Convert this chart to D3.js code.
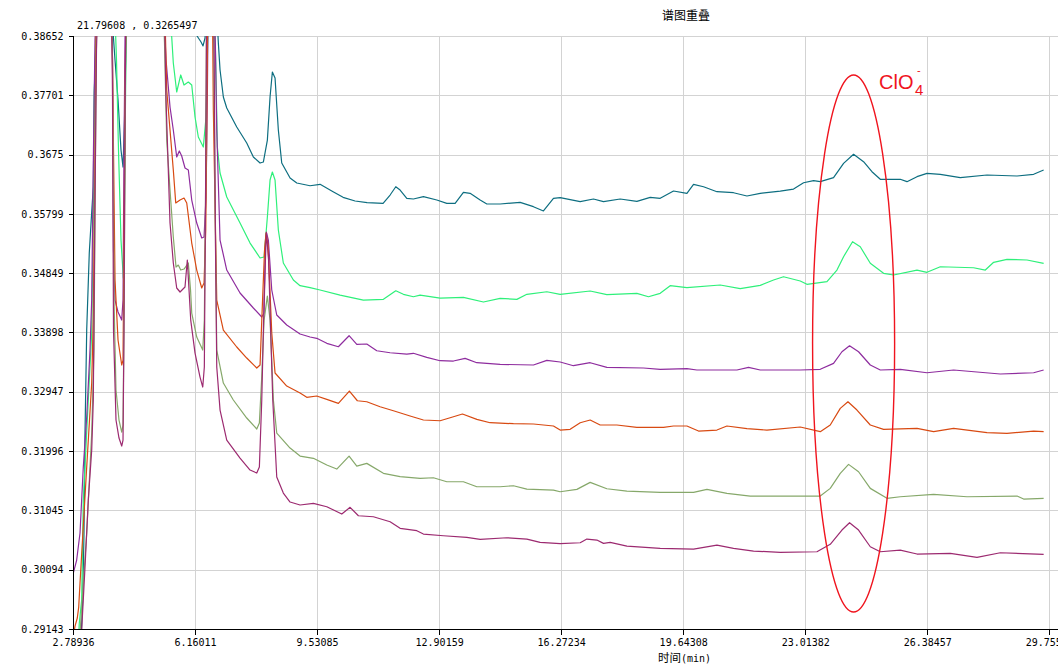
<!DOCTYPE html>
<html><head><meta charset="utf-8">
<script src="https://cdn.jsdelivr.net/npm/d3@7/dist/d3.min.js"></script>
<style>
html,body{margin:0;padding:0;background:#fff;overflow:hidden;}
svg{display:block;}
</style></head>
<body>
<svg id="chart" width="1058" height="665"></svg>
<script>
// ---------- DATA ----------
const chartTitle = "谱图重叠";
const xAxisTitleCJK = "时间";
const xAxisTitleUnit = "(min)";
const cursorReadout = "21.79608 , 0.3265497";
const annotationLabel = "ClO";
const annotationSub = "4";
const annotationSup = "-";

const xTickValues = [2.78936, 6.16011, 9.53085, 12.90159, 16.27234, 19.64308, 23.01382, 26.38457, 29.75531];
const xTickLabels = ["2.78936", "6.16011", "9.53085", "12.90159", "16.27234", "19.64308", "23.01382", "26.38457", "29.75531"];
const yTickValues = [0.29143, 0.30094, 0.31045, 0.31996, 0.32947, 0.33898, 0.34849, 0.35799, 0.3675, 0.37701, 0.38652];
const yTickLabels = ["0.29143", "0.30094", "0.31045", "0.31996", "0.32947", "0.33898", "0.34849", "0.35799", "0.3675", "0.37701", "0.38652"];

// ClO4- peak region (time, signal) marked by the ellipse
const markCenter = [24.35, 0.33721];
const markHalfSpan = [1.133, 0.04306];

// each series: [time (min), signal]
const seriesTeal = [[2.789,0.2885],[3.010,0.28966],[3.057,0.29607],[3.093,0.30682],[3.121,0.32285],[3.168,0.33937],[3.239,0.35172],[3.306,0.35829],[3.350,0.36230],[3.378,0.37754],[3.416,0.38428],[3.452,0.3895],[3.867,0.3895],[3.950,0.38267],[4.033,0.37626],[4.115,0.36824],[4.171,0.36551],[4.212,0.37305],[4.253,0.38588],[4.281,0.3895],[6.160,0.3895],[6.215,0.38652],[6.326,0.38556],[6.381,0.38492],[6.436,0.38620],[6.464,0.3895],[6.768,0.3895],[6.804,0.38540],[6.851,0.38107],[6.942,0.37674],[7.036,0.37497],[7.312,0.37193],[7.588,0.36936],[7.771,0.36712],[7.956,0.36615],[8.047,0.36631],[8.158,0.36984],[8.232,0.37674],[8.296,0.38075],[8.370,0.37979],[8.461,0.37145],[8.555,0.36615],[8.785,0.36375],[8.970,0.36295],[9.337,0.36251],[9.614,0.36274],[9.973,0.36155],[10.249,0.36065],[10.581,0.36006],[10.912,0.35979],[11.354,0.35969],[11.548,0.36102],[11.705,0.36235],[11.824,0.36182],[12.009,0.36049],[12.191,0.36038],[12.468,0.36075],[12.838,0.36022],[13.114,0.35969],[13.344,0.35969],[13.573,0.36145],[13.758,0.36129],[14.035,0.36022],[14.220,0.35958],[14.587,0.35958],[15.140,0.35985],[15.507,0.35915],[15.783,0.35846],[16.060,0.36049],[16.245,0.36059],[16.798,0.35995],[17.165,0.36038],[17.442,0.35995],[17.903,0.36038],[18.364,0.36001],[18.732,0.36065],[19.008,0.36049],[19.376,0.36166],[19.746,0.36129],[19.929,0.36274],[20.205,0.36235],[20.575,0.36155],[21.034,0.36139],[21.404,0.36086],[21.771,0.36129],[22.324,0.36166],[22.691,0.36198],[22.968,0.36299],[23.244,0.36332],[23.429,0.36316],[23.796,0.36380],[24.073,0.36610],[24.349,0.36755],[24.625,0.36636],[24.857,0.36476],[25.087,0.36354],[25.639,0.36354],[25.824,0.36316],[26.101,0.36396],[26.377,0.36450],[26.745,0.36434],[27.297,0.36380],[28.035,0.36423],[28.864,0.36407],[29.323,0.36434],[29.599,0.36503]];

const seriesGreen = [[2.789,0.2889],[2.941,0.28966],[2.963,0.29238],[3.029,0.29607],[3.074,0.31211],[3.212,0.32815],[3.306,0.33889],[3.350,0.35749],[3.378,0.37786],[3.416,0.38588],[3.438,0.3895],[3.950,0.3895],[3.991,0.38267],[4.046,0.36824],[4.115,0.35380],[4.179,0.34771],[4.212,0.36022],[4.245,0.37946],[4.267,0.3895],[5.483,0.3895],[5.516,0.38636],[5.560,0.38219],[5.654,0.37754],[5.765,0.38027],[5.856,0.37866],[5.975,0.37914],[6.069,0.37866],[6.160,0.37353],[6.251,0.37032],[6.389,0.36872],[6.464,0.37353],[6.511,0.38588],[6.533,0.3895],[6.699,0.3895],[6.732,0.38219],[6.776,0.36872],[6.851,0.36455],[7.036,0.36070],[7.403,0.35653],[7.680,0.35332],[7.956,0.35092],[8.067,0.35108],[8.158,0.35749],[8.232,0.36343],[8.296,0.36471],[8.370,0.36343],[8.461,0.35541],[8.599,0.35012],[8.876,0.34739],[9.061,0.34648],[9.337,0.34616],[9.614,0.34579],[10.166,0.34498],[10.810,0.34418],[11.363,0.34429],[11.705,0.34567],[11.915,0.34510],[12.191,0.34471],[12.377,0.34498],[12.929,0.34450],[13.573,0.34462],[14.126,0.34386],[14.587,0.34446],[15.048,0.34429],[15.325,0.34510],[15.877,0.34551],[16.245,0.34510],[17.074,0.34563],[17.535,0.34504],[18.364,0.34526],[18.684,0.34471],[19.008,0.34526],[19.284,0.34648],[19.746,0.34616],[20.666,0.34659],[21.219,0.34600],[21.771,0.34654],[22.139,0.34739],[22.415,0.34792],[22.876,0.34723],[23.061,0.34670],[23.614,0.34712],[23.890,0.34899],[24.073,0.35113],[24.321,0.35353],[24.534,0.35273],[24.811,0.35007],[25.178,0.34846],[25.454,0.34819],[26.101,0.34899],[26.377,0.34863],[26.745,0.34952],[27.665,0.34936],[27.988,0.34899],[28.218,0.35023],[28.587,0.35071],[29.140,0.35060],[29.599,0.35007]];

const seriesPurple = [[2.797,0.30040],[2.891,0.30249],[2.983,0.30682],[3.074,0.31740],[3.168,0.32542],[3.259,0.33616],[3.306,0.34418],[3.355,0.36824],[3.397,0.38588],[3.425,0.3895],[3.853,0.3895],[3.881,0.38267],[3.908,0.35220],[3.950,0.34418],[4.033,0.34226],[4.135,0.34097],[4.171,0.34418],[4.198,0.36824],[4.226,0.38588],[4.240,0.3895],[5.303,0.3895],[5.359,0.38267],[5.469,0.37513],[5.560,0.37145],[5.654,0.36712],[5.726,0.36808],[5.792,0.36728],[5.883,0.36535],[5.975,0.36503],[6.069,0.36022],[6.207,0.35653],[6.345,0.35413],[6.409,0.35429],[6.464,0.36070],[6.500,0.37674],[6.519,0.3895],[6.699,0.3895],[6.721,0.38540],[6.760,0.37145],[6.851,0.35380],[7.036,0.34899],[7.403,0.34531],[7.771,0.34290],[8.003,0.34146],[8.067,0.34210],[8.108,0.35380],[8.136,0.35493],[8.185,0.35380],[8.279,0.34579],[8.417,0.34178],[8.693,0.34017],[9.061,0.33873],[9.337,0.33825],[9.522,0.33804],[9.799,0.33724],[10.119,0.33669],[10.415,0.33846],[10.628,0.33708],[10.904,0.33713],[11.180,0.33605],[11.548,0.33573],[12.009,0.33552],[12.191,0.33564],[12.561,0.33499],[12.929,0.33445],[13.297,0.33440],[13.620,0.33483],[13.943,0.33413],[14.587,0.33387],[15.507,0.33376],[15.877,0.33451],[16.245,0.33424],[16.612,0.33365],[17.074,0.33413],[17.535,0.33339],[18.546,0.33328],[19.008,0.33307],[19.746,0.33317],[20.022,0.33296],[21.127,0.33296],[21.448,0.33339],[21.771,0.33296],[22.876,0.33296],[23.429,0.33307],[23.796,0.33403],[24.028,0.33589],[24.238,0.33685],[24.487,0.33589],[24.811,0.33376],[25.087,0.33296],[25.639,0.33307],[26.377,0.33252],[27.112,0.33296],[28.403,0.33232],[29.323,0.33252],[29.599,0.33296]];

const seriesOrange = [[2.803,0.29030],[2.845,0.29190],[2.908,0.29319],[2.947,0.29495],[2.983,0.29880],[3.168,0.31740],[3.306,0.33087],[3.350,0.34146],[3.397,0.36824],[3.425,0.38588],[3.447,0.3895],[3.867,0.3895],[3.908,0.36824],[3.950,0.34739],[4.033,0.33777],[4.135,0.33376],[4.171,0.33456],[4.207,0.36022],[4.240,0.38428],[4.259,0.3895],[5.331,0.3895],[5.378,0.37786],[5.469,0.37145],[5.560,0.36503],[5.627,0.35974],[5.746,0.36022],[5.856,0.36054],[5.931,0.35974],[6.069,0.35332],[6.207,0.34899],[6.345,0.34611],[6.409,0.34691],[6.456,0.35541],[6.483,0.37145],[6.505,0.3895],[6.644,0.3895],[6.666,0.37465],[6.760,0.34418],[6.942,0.33937],[7.312,0.33665],[7.588,0.33488],[7.865,0.33328],[7.956,0.33376],[8.011,0.34210],[8.080,0.35220],[8.121,0.35493],[8.177,0.35300],[8.279,0.33889],[8.370,0.33248],[8.693,0.33039],[9.061,0.32927],[9.246,0.32858],[9.522,0.32879],[9.799,0.32826],[10.119,0.32762],[10.423,0.32959],[10.644,0.32803],[10.904,0.32787],[11.271,0.32707],[11.639,0.32643],[12.100,0.32558],[12.468,0.32494],[12.929,0.32482],[13.206,0.32531],[13.546,0.32590],[13.944,0.32505],[14.311,0.32451],[14.955,0.32435],[15.507,0.32430],[16.060,0.32398],[16.245,0.32333],[16.521,0.32345],[16.798,0.32451],[17.074,0.32494],[17.350,0.32414],[17.811,0.32414],[18.364,0.32377],[19.099,0.32377],[19.376,0.32398],[19.746,0.32398],[20.066,0.32317],[20.575,0.32333],[20.851,0.32398],[21.404,0.32355],[21.956,0.32333],[22.876,0.32382],[23.429,0.32307],[23.705,0.32414],[23.982,0.32681],[24.194,0.32787],[24.443,0.32654],[24.811,0.32414],[25.178,0.32345],[26.101,0.32361],[26.560,0.32307],[27.112,0.32361],[28.035,0.32291],[28.587,0.32281],[29.323,0.32317],[29.599,0.32307]];

const seriesOlive = [[2.789,0.2889],[2.955,0.28966],[2.983,0.29078],[3.168,0.30682],[3.306,0.32285],[3.369,0.33616],[3.411,0.36824],[3.438,0.38588],[3.458,0.3895],[3.867,0.3895],[3.886,0.37866],[3.922,0.34418],[3.977,0.32975],[4.060,0.32494],[4.135,0.32301],[4.171,0.32414],[4.204,0.34418],[4.234,0.37626],[4.253,0.3895],[5.290,0.3895],[5.317,0.38540],[5.378,0.36984],[5.469,0.36182],[5.560,0.35429],[5.635,0.34947],[5.698,0.34979],[5.765,0.34899],[5.856,0.34915],[5.975,0.35012],[6.036,0.34579],[6.069,0.34210],[6.207,0.33825],[6.373,0.33616],[6.417,0.34097],[6.450,0.36022],[6.478,0.3895],[6.671,0.3895],[6.713,0.36022],[6.760,0.33616],[6.942,0.33087],[7.218,0.32815],[7.588,0.32526],[7.865,0.32350],[7.937,0.32446],[7.998,0.33135],[8.067,0.34097],[8.158,0.34482],[8.232,0.34097],[8.324,0.32815],[8.417,0.32285],[8.785,0.32045],[9.061,0.31916],[9.429,0.31880],[9.799,0.31772],[10.075,0.31708],[10.415,0.31916],[10.628,0.31756],[10.904,0.31799],[11.363,0.31639],[11.824,0.31585],[12.377,0.31559],[12.744,0.31568],[13.114,0.31504],[13.573,0.31504],[13.943,0.31424],[14.587,0.31424],[14.955,0.31440],[15.325,0.31387],[16.060,0.31371],[16.245,0.31344],[16.707,0.31382],[17.074,0.31494],[17.535,0.31392],[18.088,0.31355],[19.008,0.31334],[19.929,0.31334],[20.299,0.31382],[20.851,0.31318],[21.495,0.31275],[22.876,0.31275],[23.429,0.31275],[23.705,0.31398],[23.982,0.31639],[24.211,0.31783],[24.487,0.31665],[24.811,0.31398],[25.272,0.31238],[25.639,0.31264],[26.560,0.31302],[27.482,0.31264],[28.864,0.31275],[29.046,0.31227],[29.599,0.31238]];

const seriesMagenta = [[2.789,0.2880],[3.010,0.28966],[3.029,0.29126],[3.121,0.30136],[3.212,0.31211],[3.306,0.32013],[3.350,0.32815],[3.397,0.36022],[3.438,0.38428],[3.460,0.3895],[3.861,0.3895],[3.881,0.37626],[3.908,0.33937],[3.977,0.32494],[4.060,0.32205],[4.135,0.32077],[4.171,0.32173],[4.198,0.33937],[4.226,0.37305],[4.248,0.3895],[5.317,0.3895],[5.359,0.37626],[5.469,0.35653],[5.560,0.35012],[5.654,0.34611],[5.746,0.34547],[5.883,0.34627],[5.947,0.35060],[5.994,0.34579],[6.041,0.34097],[6.160,0.33568],[6.298,0.33183],[6.373,0.33023],[6.417,0.33344],[6.450,0.36022],[6.478,0.3895],[6.680,0.3895],[6.726,0.35220],[6.760,0.33344],[6.851,0.32654],[7.036,0.32173],[7.403,0.31884],[7.680,0.31692],[7.865,0.31644],[7.937,0.31740],[8.003,0.32815],[8.067,0.34418],[8.130,0.35509],[8.191,0.35060],[8.307,0.32815],[8.417,0.31580],[8.599,0.31323],[8.785,0.31179],[9.061,0.31131],[9.429,0.31158],[9.799,0.31104],[10.213,0.30986],[10.443,0.31094],[10.672,0.30959],[11.086,0.30943],[11.548,0.30863],[11.824,0.30757],[12.285,0.30719],[12.468,0.30665],[13.021,0.30638],[13.667,0.30613],[14.035,0.30581],[14.772,0.30606],[15.325,0.30585],[15.692,0.30532],[16.245,0.30513],[16.798,0.30526],[16.983,0.30585],[17.259,0.30569],[17.442,0.30516],[17.627,0.30532],[18.088,0.30473],[19.008,0.30436],[19.929,0.30425],[20.575,0.30489],[21.034,0.30436],[21.587,0.30393],[22.324,0.30372],[23.337,0.30382],[23.705,0.30501],[24.028,0.30730],[24.238,0.30847],[24.487,0.30730],[24.811,0.30462],[25.087,0.30382],[25.639,0.30409],[26.101,0.30345],[27.021,0.30356],[27.758,0.30292],[28.403,0.30366],[29.599,0.30340]];

// ---------- STYLE ----------
const seriesList = [seriesTeal, seriesGreen, seriesPurple, seriesOrange, seriesOlive, seriesMagenta];
const seriesColors = ["#0d6e80", "#2ef07a", "#8e2c9e", "#d84a12", "#86a86a", "#9c2a70"];

const W = 1058, H = 665;
const plot = {left: 73, top: 36, right: 1058, bottom: 629};
const monoFont = "'DejaVu Sans Mono', 'Liberation Mono', monospace";
const cjkFont = "'Noto Sans CJK SC', 'Noto Sans', sans-serif";
const annFont = "'Liberation Sans', Arial, sans-serif";
const annColor = "#f0141e";

const svg = d3.select("#chart");
svg.append("rect").attr("width", W).attr("height", H).attr("fill", "#fff");

const x = d3.scaleLinear().domain([2.78936, 29.75531]).range([73, 1049.3]);
const y = d3.scaleLinear().domain([0.29143, 0.38652]).range([plot.bottom, plot.top]);

// grid
const grid = svg.append("g").attr("shape-rendering", "crispEdges");
grid.selectAll("line.h").data(yTickValues).join("line")
  .attr("x1", plot.left).attr("x2", plot.right)
  .attr("y1", d => Math.round(y(d)) + 0.5).attr("y2", d => Math.round(y(d)) + 0.5)
  .attr("stroke", "#d3d3d3").attr("stroke-width", 1);
grid.selectAll("line.v").data(xTickValues).join("line")
  .attr("y1", plot.top).attr("y2", plot.bottom)
  .attr("x1", d => Math.round(x(d)) + 0.5).attr("x2", d => Math.round(x(d)) + 0.5)
  .attr("stroke", "#d3d3d3").attr("stroke-width", 1);

// series
const defs = svg.append("defs");
defs.append("clipPath").attr("id", "plotClip").append("rect")
  .attr("x", plot.left + 1).attr("y", plot.top)
  .attr("width", plot.right - plot.left).attr("height", plot.bottom - plot.top);

const line = d3.line().x(d => x(d[0])).y(d => y(d[1])).curve(d3.curveLinear);
const lines = svg.append("g").attr("clip-path", "url(#plotClip)");
seriesList.forEach((s, i) => {
  lines.append("path").datum(s)
    .attr("d", line)
    .attr("fill", "none")
    .attr("stroke", seriesColors[i])
    .attr("stroke-width", 1.2)
    .attr("stroke-linejoin", "round");
});

// axes
const yAxis = d3.axisLeft(y).tickValues(yTickValues)
  .tickFormat((d, i) => yTickLabels[i]).tickSize(5).tickPadding(5);
const gy = svg.append("g").attr("transform", `translate(${plot.left + 0.5},0)`).call(yAxis);
gy.select(".domain").attr("stroke", "#000").attr("d", `M0,${plot.top}V${plot.bottom}`);
gy.selectAll(".tick line").attr("stroke", "#000");
gy.selectAll("text").attr("font-family", monoFont).attr("font-size", 10).attr("fill", "#000");
gy.attr("shape-rendering", "crispEdges");

const xAxis = d3.axisBottom(x).tickValues(xTickValues)
  .tickFormat((d, i) => xTickLabels[i]).tickSize(5).tickPadding(4);
const gx = svg.append("g").attr("transform", `translate(0,${plot.bottom + 0.5})`).call(xAxis);
gx.select(".domain").attr("stroke", "#000").attr("d", `M${plot.left},0H${plot.right}`);
gx.selectAll(".tick line").attr("stroke", "#000");
gx.selectAll("text").attr("font-family", monoFont).attr("font-size", 10).attr("fill", "#000");
gx.attr("shape-rendering", "crispEdges");

// texts
svg.append("text").attr("x", 686).attr("y", 20).attr("text-anchor", "middle")
  .attr("font-family", cjkFont).attr("font-size", 12).attr("fill", "#000").text(chartTitle);

svg.append("text").attr("x", 77).attr("y", 29)
  .attr("font-family", monoFont).attr("font-size", 10).attr("fill", "#000").text(cursorReadout);

const xt = svg.append("text").attr("x", 658).attr("y", 662).attr("fill", "#000");
xt.append("tspan").attr("font-family", cjkFont).attr("font-size", 11.5).text(xAxisTitleCJK);
xt.append("tspan").attr("font-family", monoFont).attr("font-size", 10).text(xAxisTitleUnit);

// ClO4- annotation
svg.append("ellipse")
  .attr("cx", x(markCenter[0])).attr("cy", y(markCenter[1]))
  .attr("rx", x(markCenter[0] + markHalfSpan[0]) - x(markCenter[0]))
  .attr("ry", y(markCenter[1] - markHalfSpan[1]) - y(markCenter[1]))
  .attr("fill", "none").attr("stroke", annColor).attr("stroke-width", 1.4);

svg.append("text").attr("x", 879).attr("y", 89)
  .attr("font-family", annFont).attr("font-size", 20).attr("fill", annColor).text(annotationLabel);
svg.append("text").attr("x", 915).attr("y", 95)
  .attr("font-family", annFont).attr("font-size", 15).attr("fill", annColor).text(annotationSub);
svg.append("text").attr("x", 917).attr("y", 74)
  .attr("font-family", annFont).attr("font-size", 11).attr("fill", annColor).text(annotationSup);
</script>
</body></html>
